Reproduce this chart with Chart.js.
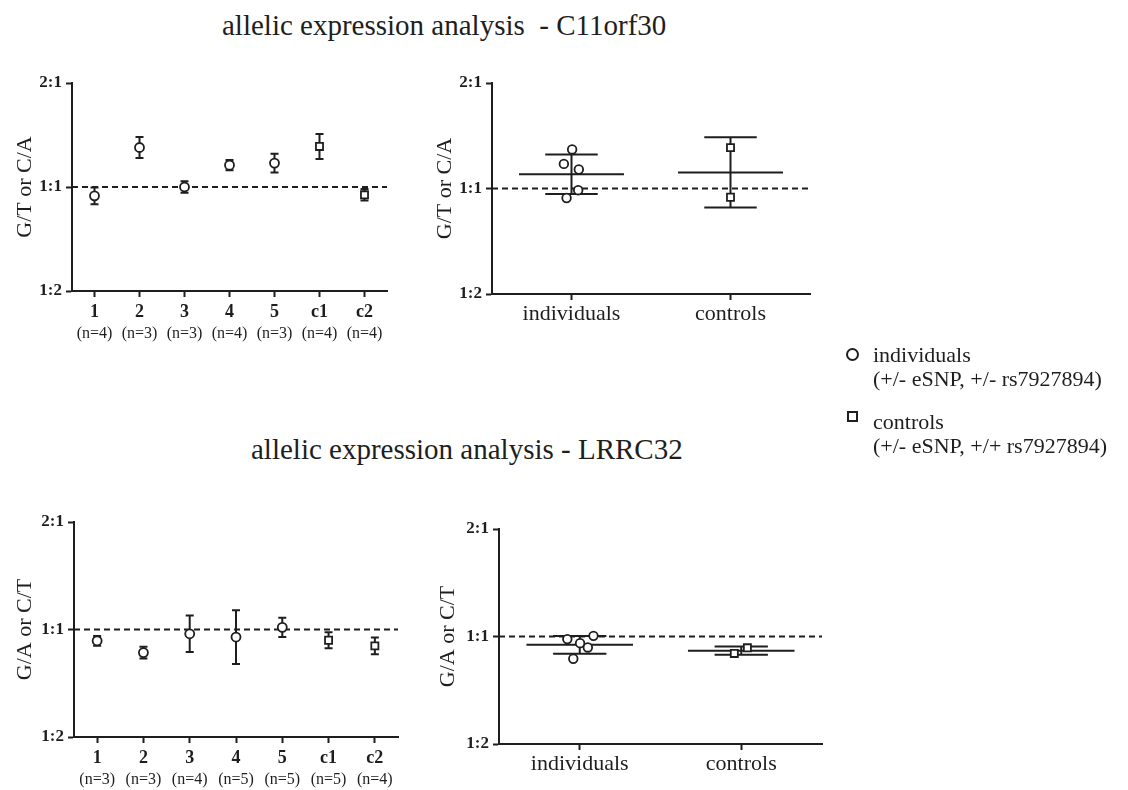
<!DOCTYPE html>
<html>
<head>
<meta charset="utf-8">
<script src="https://cdn.jsdelivr.net/npm/chart.js@4.4.1/dist/chart.umd.min.js"></script>
<style>
  body { margin: 0; background: #fff; width: 1128px; height: 790px; position: relative; overflow: hidden;
         font-family: "Liberation Serif", serif; color: #1e1e1e; }
  .titulo { position: absolute; font-size: 29px; line-height: 1; white-space: pre; }
  canvas { position: absolute; }
  .legenda { position: absolute; left: 873px; font-size: 22px; line-height: 24px; white-space: pre; }
  .simbolo { position: absolute; box-sizing: border-box; border: 2px solid #1e1e1e; background: #fff; }
</style>
</head>
<body>
<div class="titulo" style="left:222px; top:11px;">allelic expression analysis  - C11orf30</div>
<div class="titulo" style="left:251px; top:435px;">allelic expression analysis - LRRC32</div>

<canvas id="c11Amostras" width="440" height="300" style="left:0; top:60px;"></canvas>
<canvas id="c11Grupos" width="420" height="300" style="left:420px; top:60px;"></canvas>
<canvas id="lrrcAmostras" width="440" height="290" style="left:0; top:500px;"></canvas>
<canvas id="lrrcGrupos" width="420" height="290" style="left:420px; top:500px;"></canvas>

<div class="simbolo" style="left:846px; top:348px; width:13px; height:13px; border-radius:50%;"></div>
<div class="legenda" style="top:343px;">individuals
(+/- eSNP, +/- rs7927894)</div>
<div class="simbolo" style="left:847px; top:411px; width:11px; height:11px;"></div>
<div class="legenda" style="top:410px;">controls
(+/- eSNP, +/+ rs7927894)</div>

<script>
// eixo y em log2 da razao alelica: -1 = 1:2, 0 = 1:1, 1 = 2:1
const valoresY = [-1, 0, 1];
const rotulosY = ["1:2", "1:1", "2:1"];

const amostras = ["1", "2", "3", "4", "5", "c1", "c2"];
const grupos = ["individuals", "controls"];

// C11orf30 - media e erro por amostra
const c11N = ["(n=4)", "(n=3)", "(n=3)", "(n=4)", "(n=3)", "(n=4)", "(n=4)"];
const c11Media = [-0.085, 0.38, 0.0, 0.21, 0.23, 0.39, -0.075];
const c11Erro = [0.08, 0.1, 0.055, 0.05, 0.09, 0.12, 0.055];
const c11Individuos = [0.37, 0.233, 0.18, -0.016, -0.09];
const c11IndDesloc = [0.004, -0.048, 0.046, 0.042, -0.031];
const c11Controles = [0.388, -0.083];
const c11CtrlDesloc = [0, 0];

// LRRC32
const lrrcN = ["(n=3)", "(n=3)", "(n=4)", "(n=5)", "(n=5)", "(n=5)", "(n=4)"];
const lrrcMedia = [-0.105, -0.215, -0.04, -0.07, 0.02, -0.1, -0.152];
const lrrcErro = [0.045, 0.055, 0.17, 0.25, 0.09, 0.075, 0.078];
const lrrcIndividuos = [-0.024, -0.062, -0.102, 0.006, -0.207];
const lrrcIndDesloc = [-0.077, 0.002, 0.05, 0.085, -0.04];
const lrrcControles = [-0.158, -0.105];
const lrrcCtrlDesloc = [-0.043, 0.038];

const PRETO = "#1e1e1e";
const FONTE = "'Liberation Serif', serif";
const nIndividuos = 5; // as amostras 1-5 sao individuos, c1/c2 controles

function escalaY(titulo, largura, tituloPad) {
  return {
    min: -1,
    max: 1,
    afterFit: (s) => { s.width = largura; },
    afterBuildTicks: (s) => { s.ticks = valoresY.map((v) => ({ value: v })); },
    ticks: {
      callback: (v) => rotulosY[valoresY.indexOf(v)],
      font: { family: FONTE, weight: "bold", size: 17 },
      color: PRETO,
      padding: 4,
    },
    grid: { drawOnChartArea: false, drawTicks: true, tickLength: 6, tickWidth: 2, tickColor: PRETO },
    border: { color: PRETO, width: 2 },
    title: {
      display: true,
      text: titulo,
      font: { family: FONTE, size: 22 },
      color: PRETO,
      padding: { top: tituloPad, bottom: 0 },
    },
  };
}

function escalaX(qtd, rotulos, altura, fonte, pad) {
  return {
    type: "linear",
    min: -0.5,
    max: qtd - 0.5,
    afterFit: (s) => { s.height = altura; },
    afterBuildTicks: (s) => { s.ticks = rotulos.map((_, i) => ({ value: i })); },
    ticks: { callback: (v) => rotulos[v], font: fonte, color: PRETO, padding: pad, maxRotation: 0 },
    grid: { drawOnChartArea: false, drawTicks: true, tickLength: 6, tickWidth: 2, tickColor: PRETO },
    border: { color: PRETO, width: 2 },
  };
}

// linha tracejada em 1:1
const linhaIgual = {
  id: "linhaIgual",
  beforeDatasetsDraw(chart) {
    const { ctx, chartArea, scales } = chart;
    const y0 = scales.y.getPixelForValue(0);
    ctx.save();
    ctx.strokeStyle = PRETO;
    ctx.lineWidth = 2;
    ctx.setLineDash([6, 4]);
    ctx.beginPath();
    ctx.moveTo(chartArea.left, y0);
    ctx.lineTo(chartArea.right, y0);
    ctx.stroke();
    ctx.restore();
  },
};

function barrasErro(media, erro) {
  return {
    id: "barrasErro",
    beforeDatasetsDraw(chart) {
      const { ctx, scales: { x, y } } = chart;
      ctx.save();
      ctx.strokeStyle = PRETO;
      ctx.lineWidth = 2;
      media.forEach((m, i) => {
        const px = x.getPixelForValue(i);
        const y1 = y.getPixelForValue(m + erro[i]);
        const y2 = y.getPixelForValue(m - erro[i]);
        ctx.beginPath();
        ctx.moveTo(px, y1); ctx.lineTo(px, y2);
        ctx.moveTo(px - 4, y1); ctx.lineTo(px + 4, y1);
        ctx.moveTo(px - 4, y2); ctx.lineTo(px + 4, y2);
        ctx.stroke();
      });
      ctx.restore();
    },
  };
}

function rotulosN(ns) {
  return {
    id: "rotulosN",
    afterDraw(chart) {
      const { ctx, scales: { x } } = chart;
      ctx.save();
      ctx.font = "16px " + FONTE;
      ctx.fillStyle = PRETO;
      ctx.textAlign = "center";
      ctx.textBaseline = "middle";
      ns.forEach((n, i) => ctx.fillText(n, x.getPixelForValue(i), x.top + 43));
      ctx.restore();
    },
  };
}

// media +/- desvio padrao de cada grupo
function mediaDesvio(listas) {
  return {
    id: "mediaDesvio",
    beforeDatasetsDraw(chart) {
      const { ctx, scales: { x, y } } = chart;
      ctx.save();
      ctx.strokeStyle = PRETO;
      ctx.lineWidth = 2;
      listas.forEach((vals, g) => {
        const m = vals.reduce((a, b) => a + b, 0) / vals.length;
        const sd = Math.sqrt(vals.reduce((a, b) => a + (b - m) ** 2, 0) / (vals.length - 1));
        const ym = y.getPixelForValue(m);
        const yA = y.getPixelForValue(m + sd);
        const yB = y.getPixelForValue(m - sd);
        ctx.beginPath();
        ctx.moveTo(x.getPixelForValue(g - 0.33), ym); ctx.lineTo(x.getPixelForValue(g + 0.33), ym);
        ctx.moveTo(x.getPixelForValue(g), yA); ctx.lineTo(x.getPixelForValue(g), yB);
        ctx.moveTo(x.getPixelForValue(g - 0.165), yA); ctx.lineTo(x.getPixelForValue(g + 0.165), yA);
        ctx.moveTo(x.getPixelForValue(g - 0.165), yB); ctx.lineTo(x.getPixelForValue(g + 0.165), yB);
        ctx.stroke();
      });
      ctx.restore();
    },
  };
}

const estiloCirculo = { pointStyle: "circle", pointRadius: 4.5, borderWidth: 1.8, borderColor: PRETO, backgroundColor: "#fff" };
const estiloQuadrado = { pointStyle: "rect", pointRadius: 5, borderWidth: 1.8, borderColor: PRETO, backgroundColor: "#fff" };

const opcoesBase = {
  responsive: false,
  animation: false,
  events: [],
  plugins: { legend: { display: false }, tooltip: { enabled: false } },
};

function painelAmostras(id, media, erro, ns, tituloY, geo) {
  const pontos = media.map((m, i) => ({ x: i, y: m }));
  new Chart(document.getElementById(id), {
    type: "scatter",
    data: {
      datasets: [
        { data: pontos.slice(0, nIndividuos), ...estiloCirculo },
        { data: pontos.slice(nIndividuos), ...estiloQuadrado },
      ],
    },
    options: {
      ...opcoesBase,
      layout: { padding: { top: geo.top, right: geo.right, left: 0, bottom: 0 } },
      scales: {
        x: escalaX(amostras.length, amostras, geo.alturaX, { family: FONTE, weight: "bold", size: 18 }, 5),
        y: escalaY(tituloY, geo.larguraY, geo.tituloPad),
      },
    },
    plugins: [linhaIgual, barrasErro(media, erro), rotulosN(ns)],
  });
}

function painelGrupos(id, individuos, indDesloc, controles, ctrlDesloc, tituloY, geo) {
  new Chart(document.getElementById(id), {
    type: "scatter",
    data: {
      datasets: [
        { data: individuos.map((v, i) => ({ x: 0 + indDesloc[i], y: v })), ...estiloCirculo, pointRadius: 4.3 },
        { data: controles.map((v, i) => ({ x: 1 + ctrlDesloc[i], y: v })), ...estiloQuadrado },
      ],
    },
    options: {
      ...opcoesBase,
      layout: { padding: { top: geo.top, right: geo.right, left: 0, bottom: 0 } },
      scales: {
        x: escalaX(grupos.length, grupos, geo.alturaX, { family: FONTE, size: 22 }, 1),
        y: escalaY(tituloY, geo.larguraY, geo.tituloPad),
      },
    },
    plugins: [linhaIgual, mediaDesvio([individuos, controles])],
  });
}

painelAmostras("c11Amostras", c11Media, c11Erro, c11N, "G/T or C/A",
  { top: 23, right: 53, alturaX: 69, larguraY: 72, tituloPad: 12 });
painelGrupos("c11Grupos", c11Individuos, c11IndDesloc, c11Controles, c11CtrlDesloc, "G/T or C/A",
  { top: 23, right: 30, alturaX: 66, larguraY: 72, tituloPad: 12 });
painelAmostras("lrrcAmostras", lrrcMedia, lrrcErro, lrrcN, "G/A or C/T",
  { top: 22, right: 42, alturaX: 53, larguraY: 74, tituloPad: 12 });
painelGrupos("lrrcGrupos", lrrcIndividuos, lrrcIndDesloc, lrrcControles, lrrcCtrlDesloc, "G/A or C/T",
  { top: 29, right: 18, alturaX: 46, larguraY: 79, tituloPad: 15 });
</script>
</body>
</html>
